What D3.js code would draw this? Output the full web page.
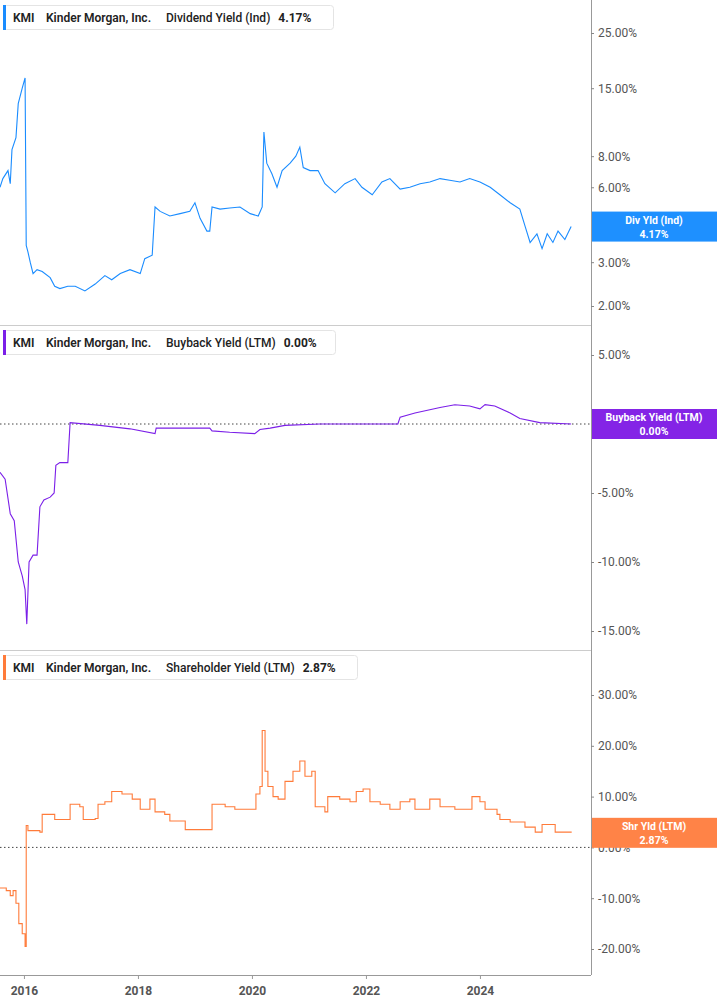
<!DOCTYPE html>
<html><head><meta charset="utf-8">
<script src="https://cdn.jsdelivr.net/npm/d3@7"></script>
<style>body{margin:0;background:#fff;font-family:Roboto,"Open Sans",sans-serif}</style>
</head><body><svg id="c" width="717" height="1005"></svg>
<script>
const yearTicks=[2016,2018,2020,2022,2024];
const divTicks=[2,3,6,8,15,25];
const bbTicks=[5,-5,-10,-15];
const shrTicks=[30,20,10,0,-10,-20];
const divYield=[[2015.58,6.0],[2015.63,6.5],[2015.72,7.0],[2015.76,6.2],[2015.79,8.5],[2015.86,9.5],[2015.90,13],[2015.97,15],[2016.02,16.5],[2016.04,3.5],[2016.07,3.3],[2016.11,3.0],[2016.16,2.7],[2016.23,2.8],[2016.32,2.75],[2016.46,2.6],[2016.54,2.4],[2016.63,2.35],[2016.77,2.4],[2016.90,2.4],[2017.07,2.3],[2017.25,2.45],[2017.42,2.65],[2017.54,2.55],[2017.69,2.7],[2017.86,2.8],[2018.04,2.7],[2018.12,3.1],[2018.25,3.2],[2018.30,5.0],[2018.39,4.8],[2018.56,4.6],[2018.74,4.7],[2018.91,4.8],[2019.00,5.2],[2019.09,4.5],[2019.21,4.0],[2019.26,4.0],[2019.30,5.0],[2019.44,4.9],[2019.61,4.95],[2019.79,5.0],[2019.97,4.7],[2020.11,4.6],[2020.18,5.0],[2020.21,10.0],[2020.26,7.5],[2020.35,6.8],[2020.44,6.0],[2020.53,7.0],[2020.67,7.5],[2020.77,8.0],[2020.84,8.7],[2020.90,7.2],[2021.02,7.0],[2021.16,7.0],[2021.28,6.2],[2021.46,5.7],[2021.63,6.2],[2021.81,6.5],[2021.93,6.0],[2022.11,5.6],[2022.28,6.3],[2022.42,6.5],[2022.60,5.9],[2022.77,6.0],[2022.95,6.2],[2023.12,6.3],[2023.30,6.5],[2023.47,6.4],[2023.65,6.3],[2023.82,6.5],[2024.00,6.3],[2024.18,6.0],[2024.35,5.6],[2024.53,5.2],[2024.70,4.9],[2024.79,4.2],[2024.88,3.6],[2025.00,3.9],[2025.09,3.4],[2025.18,3.9],[2025.28,3.6],[2025.37,4.0],[2025.49,3.7],[2025.60,4.17]];
const buyback=[[2015.58,-3.5],[2015.67,-4],[2015.76,-6.5],[2015.83,-7],[2015.90,-10],[2015.97,-11],[2016.02,-12],[2016.05,-14.5],[2016.09,-10],[2016.16,-9.5],[2016.23,-9.5],[2016.28,-6],[2016.35,-5.5],[2016.46,-5.3],[2016.53,-5],[2016.56,-3],[2016.63,-2.8],[2016.77,-2.8],[2016.81,0.1],[2017.33,-0.1],[2017.86,-0.35],[2018.30,-0.7],[2018.32,-0.3],[2019.26,-0.3],[2019.30,-0.5],[2019.61,-0.6],[2020.05,-0.7],[2020.14,-0.4],[2020.32,-0.3],[2020.58,-0.1],[2021.19,0],[2022.56,0],[2022.60,0.5],[2022.86,0.8],[2023.30,1.2],[2023.56,1.4],[2023.82,1.3],[2024.00,1.1],[2024.09,1.4],[2024.26,1.3],[2024.53,0.8],[2024.70,0.4],[2025.05,0.1],[2025.60,0]];
const shrYield=[[2015.58,-8],[2015.69,-8.5],[2015.76,-9.5],[2015.81,-8.5],[2015.86,-11],[2015.91,-15],[2015.97,-17],[2016.02,-19.5],[2016.04,4.3],[2016.07,3.3],[2016.28,3.0],[2016.32,6.5],[2016.46,6.5],[2016.54,5.5],[2016.72,5.5],[2016.81,8.5],[2016.98,8.0],[2017.04,5.5],[2017.25,5.7],[2017.30,8.5],[2017.42,9.0],[2017.54,11.0],[2017.72,10.5],[2017.90,9.5],[2018.04,7.5],[2018.21,9.5],[2018.30,7.0],[2018.47,6.5],[2018.56,5.2],[2018.77,5.2],[2018.83,3.5],[2019.00,3.5],[2019.18,3.5],[2019.30,8.5],[2019.53,8.0],[2019.70,7.5],[2019.97,7.5],[2020.07,10.5],[2020.14,12],[2020.18,23],[2020.23,15],[2020.28,12],[2020.37,10],[2020.46,9.5],[2020.58,13],[2020.72,15],[2020.84,17],[2020.93,14],[2021.05,15],[2021.11,8],[2021.28,7],[2021.33,10.0],[2021.54,9.5],[2021.72,9.0],[2021.83,11],[2021.95,11.5],[2022.07,9.0],[2022.25,8.5],[2022.42,7.5],[2022.60,9.0],[2022.77,9.5],[2022.86,7.5],[2023.04,7.5],[2023.12,9.5],[2023.30,8.0],[2023.47,8.0],[2023.56,7.5],[2023.82,7.5],[2023.86,10.0],[2024.00,9.0],[2024.09,7.5],[2024.30,6.5],[2024.35,5.5],[2024.53,5.0],[2024.70,5.0],[2024.79,4.0],[2024.97,3.0],[2025.05,3.0],[2025.09,4.5],[2025.26,4.5],[2025.32,3.0],[2025.60,2.87]];

const svg=d3.select("#c");
const W=591;
const x=d3.scaleLinear().domain([2015.58,2015.58+591/57]).range([0,W]);
const panels=[
 {data:divYield,y:d3.scaleLog().domain([2,25]).range([306,33]),ticks:divTicks,color:"#1a8cff",tag:"#1e90ff",
  metric:"Dividend Yield (Ind)",val:"4.17%",tagName:"Div Yld (Ind)",top:0,bot:325,zero:false,lw:333,curve:d3.curveLinear},
 {data:buyback,y:d3.scaleLinear().domain([-15,5]).range([631,355]),ticks:bbTicks,color:"#7b1fe8",tag:"#8424e6",
  metric:"Buyback Yield (LTM)",val:"0.00%",tagName:"Buyback Yield (LTM)",top:325,bot:650,zero:true,lw:335,curve:d3.curveLinear},
 {data:shrYield,y:d3.scaleLinear().domain([-20,30]).range([949,695]),ticks:shrTicks,color:"#ff7b3a",tag:"#ff8347",
  metric:"Shareholder Yield (LTM)",val:"2.87%",tagName:"Shr Yld (LTM)",top:650,bot:975,zero:true,lw:357,curve:d3.curveStepAfter}
];
svg.append("line").attr("x1",W+0.5).attr("x2",W+0.5).attr("y1",0).attr("y2",975).attr("stroke","#999");
panels.forEach((p,i)=>{
  if(i>0) svg.append("line").attr("x1",0).attr("x2",W).attr("y1",p.top+0.5).attr("y2",p.top+0.5).attr("stroke","#ccc");
  const ax=svg.append("g").attr("transform",`translate(${W},0)`)
    .call(d3.axisRight(p.y).tickValues(p.ticks).tickSize(3).tickFormat(d=>d.toFixed(2)+"%"));
  ax.select(".domain").remove();
  ax.selectAll("line").attr("stroke","#888");
  ax.selectAll("text").attr("fill","#555").attr("font-size",12).attr("x",7).attr("font-family","Roboto");
  if(p.zero) svg.append("line").attr("x1",0).attr("x2",W).attr("y1",p.y(0)).attr("y2",p.y(0))
    .attr("stroke","#444").attr("stroke-dasharray","1.5,2.5");
  svg.append("path").datum(p.data).attr("fill","none").attr("stroke",p.color).attr("stroke-width",1.1)
    .attr("d",d3.line().curve(p.curve).x(d=>x(d[0])).y(d=>p.y(d[1])));
  const last=p.data[p.data.length-1];
  const ty=p.y(last[1]);
  svg.append("rect").attr("x",W+1).attr("y",ty-15).attr("width",717-W-1).attr("height",30).attr("fill",p.tag);
  svg.append("text").attr("x",654).attr("y",ty-3).attr("text-anchor","middle").attr("fill","#fff")
    .attr("font-size",10.5).attr("font-weight",700).text(p.tagName);
  svg.append("text").attr("x",654).attr("y",ty+11).attr("text-anchor","middle").attr("fill","#fff")
    .attr("font-size",10.5).attr("font-weight",700).text(p.val);
  const g=svg.append("g").attr("transform",`translate(3,${p.top+5})`);
  g.append("rect").attr("x",0.5).attr("y",0.5).attr("width",p.lw-3).attr("height",24).attr("rx",3)
    .attr("fill","#fff").attr("stroke","#e4e4e4");
  g.append("rect").attr("x",0).attr("y",0).attr("width",3).attr("height",25).attr("fill",p.color);
  const t=g.append("text").attr("y",17).attr("font-size",12).attr("fill","#222").attr("font-weight",600);
  t.append("tspan").attr("x",10).text("KMI");
  t.append("tspan").attr("x",43).text("Kinder Morgan, Inc.");
  t.append("tspan").attr("x",163).attr("font-weight",500).text(p.metric);
  t.append("tspan").attr("dx",8).attr("font-weight",700).text(p.val);
});
const bx=svg.append("g").attr("transform","translate(0,975)")
  .call(d3.axisBottom(x).tickValues(yearTicks).tickSize(4).tickFormat(d3.format("d")));
bx.select(".domain").attr("d",`M0,0.5H${W}`).attr("stroke","#999");
bx.selectAll("line").attr("stroke","#999");
bx.selectAll("text").attr("fill","#555").attr("font-size",12).attr("font-weight",700).attr("dy","1.1em").attr("font-family","Roboto");
</script></body></html>
